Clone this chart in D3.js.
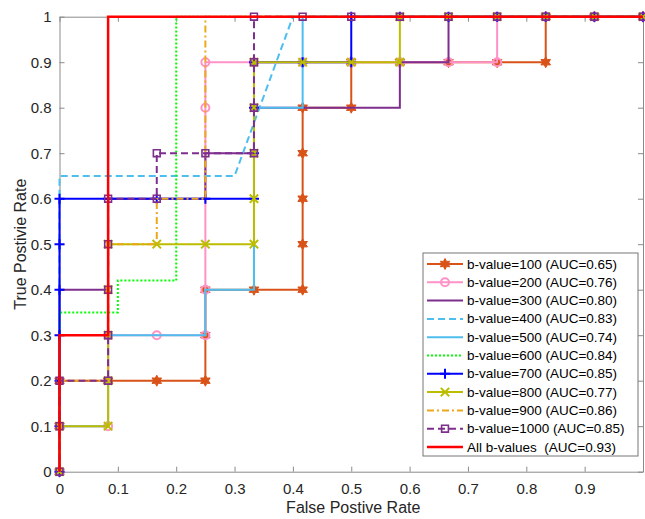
<!DOCTYPE html>
<html>
<head>
<meta charset="utf-8">
<script src="https://cdnjs.cloudflare.com/ajax/libs/d3/7.8.5/d3.min.js"></script>
<style>
  body { margin: 0; background: #fff; }
  text { font-family: "Liberation Sans", Arial, sans-serif; }
</style>
</head>
<body>
<svg width="645" height="519"></svg>
<script>
// ROC curves
var xTicks = [0, 0.1, 0.2, 0.3, 0.4, 0.5, 0.6, 0.7, 0.8, 0.9];
var yTicks = [0, 0.1, 0.2, 0.3, 0.4, 0.5, 0.6, 0.7, 0.8, 0.9, 1];

var fpr100 = [0,0,0,0.0833,0.1667,0.25,0.25,0.25,0.3333,0.4167,0.4167,0.4167,0.4167,0.4167,0.5,0.5,0.5833,0.6667,0.75,0.8333,0.8333,0.9167,1];
var tpr100 = [0,0.1,0.2,0.2,0.2,0.2,0.3,0.4,0.4,0.4,0.5,0.6,0.7,0.8,0.8,0.9,0.9,0.9,0.9,0.9,1,1,1];

var fpr200 = [0,0,0.0833,0.0833,0.1667,0.25,0.25,0.25,0.25,0.3333,0.4167,0.5,0.5833,0.6667,0.75,0.75,0.8333,0.9167,1];
var tpr200 = [0,0.1,0.1,0.3,0.3,0.3,0.4,0.8,0.9,0.9,0.9,0.9,0.9,0.9,0.9,1,1,1,1];

var fpr300 = [0,0,0.0833,0.0833,0.25,0.25,0.3333,0.3333,0.5833,0.5833,0.6667,0.6667,1];
var tpr300 = [0,0.4,0.4,0.6,0.6,0.7,0.7,0.8,0.8,0.9,0.9,1,1];

var fpr400 = [0,0,0.3,0.4,1];
var tpr400 = [0,0.65,0.65,1,1];

var fpr500 = [0,0,0.0833,0.0833,0.25,0.25,0.3333,0.3333,0.4167,0.4167,1];
var tpr500 = [0,0.1,0.1,0.3,0.3,0.4,0.4,0.8,0.8,1,1];

var fpr600 = [0,0,0.1,0.1,0.2,0.2,1];
var tpr600 = [0,0.35,0.35,0.42,0.42,1,1];

var fpr700 = [0,0,0,0,0,0,0,0.0833,0.1667,0.25,0.3333,0.3333,0.3333,0.3333,0.4167,0.5,0.5,0.5833,0.6667,0.75,0.8333,0.9167,1];
var tpr700 = [0,0.1,0.2,0.3,0.4,0.5,0.6,0.6,0.6,0.6,0.6,0.7,0.8,0.9,0.9,0.9,1,1,1,1,1,1,1];

var fpr800 = [0,0,0.0833,0.0833,0.0833,0.0833,0.0833,0.1667,0.25,0.3333,0.3333,0.3333,0.3333,0.3333,0.4167,0.5,0.5833,0.5833,0.6667,0.75,0.8333,0.9167,1];
var tpr800 = [0,0.1,0.1,0.2,0.3,0.4,0.5,0.5,0.5,0.5,0.6,0.7,0.8,0.9,0.9,0.9,0.9,1,1,1,1,1,1];

var fpr900 = [0,0,0.0833,0.0833,0.1667,0.1667,0.25,0.25,1];
var tpr900 = [0,0.2,0.2,0.5,0.5,0.6,0.6,1,1];

var fpr1000 = [0,0,0,0.0833,0.0833,0.0833,0.0833,0.0833,0.1667,0.1667,0.25,0.3333,0.3333,0.3333,0.3333,0.4167,0.5,0.5833,0.6667,0.75,0.8333,0.9167,1];
var tpr1000 = [0,0.1,0.2,0.2,0.3,0.4,0.5,0.6,0.6,0.7,0.7,0.7,0.8,0.9,1,1,1,1,1,1,1,1,1];

var fprAll = [0,0,0.0833,0.0833,1];
var tprAll = [0,0.3,0.3,1,1];

var labels = ["b-value=100 (AUC=0.65)", "b-value=200 (AUC=0.76)", "b-value=300 (AUC=0.80)",
              "b-value=400 (AUC=0.83)", "b-value=500 (AUC=0.74)", "b-value=600 (AUC=0.84)",
              "b-value=700 (AUC=0.85)", "b-value=800 (AUC=0.77)", "b-value=900 (AUC=0.86)",
              "b-value=1000 (AUC=0.85)", "All b-values  (AUC=0.93)"];

// styling of each curve
var series = [
  {x: fpr100, y: tpr100, color: "#D95319", dash: null, marker: "hexagram", w: 2},
  {x: fpr200, y: tpr200, color: "#FF92C6", dash: null, marker: "circle", w: 2},
  {x: fpr300, y: tpr300, color: "#7E2F8E", dash: null, marker: null, w: 2},
  {x: fpr400, y: tpr400, color: "#4DBEEE", dash: "7,4", marker: null, w: 2},
  {x: fpr500, y: tpr500, color: "#4DBEEE", dash: null, marker: null, w: 2},
  {x: fpr600, y: tpr600, color: "#00FF00", dash: "2,2", marker: null, w: 2},
  {x: fpr700, y: tpr700, color: "#0000FF", dash: null, marker: "plus", w: 2},
  {x: fpr800, y: tpr800, color: "#BDBD00", dash: null, marker: "cross", w: 2},
  {x: fpr900, y: tpr900, color: "#EDA81A", dash: "7,3,2,3", marker: null, w: 2},
  {x: fpr1000, y: tpr1000, color: "#7E2F8E", dash: "7,4", marker: "square", w: 2},
  {x: fprAll, y: tprAll, color: "#FF0000", dash: null, marker: null, w: 2.5}
];

var svg = d3.select('svg');
var pLeft = 59.5, pRight = 643, pTop = 16.7, pBottom = 471.7;

var x = d3.scaleLinear().domain([0, 1]).range([pLeft, pRight]);
var y = d3.scaleLinear().domain([0, 1]).range([pBottom, pTop]);

// axes, MATLAB style: ticks pointing in, box on all sides
var axisCol = "#8a8a8a";
function styleAxis(g) {
  g.select('.domain').attr('stroke', axisCol);
  g.selectAll('.tick line').attr('stroke', axisCol);
  g.selectAll('.tick text').attr('fill', '#262626').style('font-size', '15px');
}
svg.append('g').attr('transform', 'translate(0,' + pBottom + ')')
  .call(d3.axisBottom(x).tickValues(xTicks).tickSizeInner(-5).tickSizeOuter(0).tickPadding(12).tickFormat(d3.format('')))
  .call(styleAxis);
svg.append('g').attr('transform', 'translate(0,' + pTop + ')')
  .call(d3.axisTop(x).tickValues(xTicks).tickSizeInner(-5).tickSizeOuter(0).tickFormat(''))
  .call(styleAxis);
svg.append('g').attr('transform', 'translate(' + pLeft + ',0)')
  .call(d3.axisLeft(y).tickValues(yTicks).tickSizeInner(-5).tickSizeOuter(0).tickPadding(8).tickFormat(d3.format('')))
  .call(styleAxis);
svg.append('g').attr('transform', 'translate(' + pRight + ',0)')
  .call(d3.axisRight(y).tickValues(yTicks).tickSizeInner(-5).tickSizeOuter(0).tickFormat(''))
  .call(styleAxis);

svg.append('text').text('False Postive Rate')
  .attr('x', (pLeft + pRight) / 2 + 2).attr('y', 513)
  .attr('text-anchor', 'middle').style('font-size', '16px').attr('fill', '#262626');
svg.append('text').text('True Postivie Rate')
  .attr('transform', 'translate(26,' + ((pTop + pBottom) / 2) + ')rotate(-90)')
  .attr('text-anchor', 'middle').style('font-size', '16px').attr('fill', '#262626');

// marker shapes
function markerPath(type, r) {
  if (type === 'hexagram') {
    var pts = [];
    for (var i = 0; i < 12; i++) {
      var a = Math.PI / 2 + i * Math.PI / 6;
      var rr = i % 2 === 0 ? r : r * 0.55;
      pts.push([rr * Math.cos(a), -rr * Math.sin(a)]);
    }
    return 'M' + pts.map(function(p){ return p.join(','); }).join('L') + 'Z';
  }
  if (type === 'plus') return 'M' + (-r) + ',0H' + r + 'M0,' + (-r) + 'V' + r;
  if (type === 'cross') return 'M' + (-r) + ',' + (-r) + 'L' + r + ',' + r + 'M' + (-r) + ',' + r + 'L' + r + ',' + (-r);
  if (type === 'square') return 'M' + (-r) + ',' + (-r) + 'H' + r + 'V' + r + 'H' + (-r) + 'Z';
  if (type === 'circle') return 'M' + r + ',0A' + r + ',' + r + ' 0 1,1 ' + (-r) + ',0A' + r + ',' + r + ' 0 1,1 ' + r + ',0Z';
  return '';
}
var markerSize = {hexagram: 5.5, circle: 4, plus: 5, cross: 4.2, square: 3.4};

function drawMarker(g, type, color, cx, cy) {
  var p = g.append('path').attr('d', markerPath(type, markerSize[type]))
    .attr('transform', 'translate(' + cx + ',' + cy + ')')
    .attr('stroke', color).attr('stroke-width', 2);
  if (type === 'hexagram') p.attr('fill', color).attr('stroke-width', 1);
  else p.attr('fill', 'none');
  if (type === 'square') p.attr('stroke-width', 1.6);
}

var line = d3.line().x(function(d){ return x(d[0]); }).y(function(d){ return y(d[1]); });

series.forEach(function(s) {
  var pts = s.x.map(function(v, i){ return [v, s.y[i]]; });
  var g = svg.append('g');
  g.append('path').datum(pts).attr('d', line)
    .attr('fill', 'none').attr('stroke', s.color).attr('stroke-width', s.w)
    .attr('stroke-dasharray', s.dash).attr('stroke-linejoin', 'miter');
  if (s.marker) {
    pts.forEach(function(p){ drawMarker(g, s.marker, s.color, x(p[0]), y(p[1])); });
  }
});

// legend
var lg = svg.append('g');
lg.append('rect').attr('x', 423).attr('y', 253).attr('width', 215).attr('height', 203)
  .attr('fill', '#fff').attr('stroke', '#777').attr('stroke-width', 1);
series.forEach(function(s, i) {
  var yy = 264 + i * 18.3;
  lg.append('line').attr('x1', 427).attr('x2', 463).attr('y1', yy).attr('y2', yy)
    .attr('stroke', s.color).attr('stroke-width', s.w).attr('stroke-dasharray', s.dash);
  if (s.marker) drawMarker(lg, s.marker, s.color, 445, yy);
  lg.append('text').text(labels[i]).attr('x', 467).attr('y', yy)
    .attr('dominant-baseline', 'central').style('font-size', '13.5px')
    .style('white-space', 'pre').attr('fill', '#000');
});
</script>
</body>
</html>
